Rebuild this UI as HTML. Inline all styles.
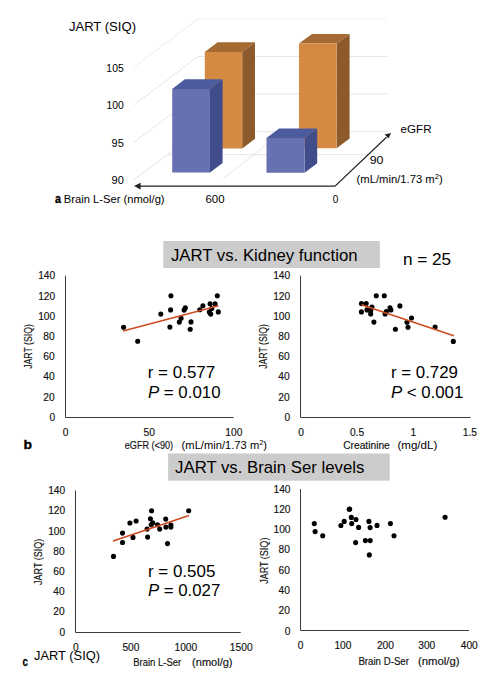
<!DOCTYPE html>
<html><head><meta charset="utf-8"><style>
html,body{margin:0;padding:0;background:#fff;}
svg{display:block;font-family:"Liberation Sans", sans-serif;}
</style></head><body>
<svg width="498" height="690" viewBox="0 0 498 690">
<line x1="134" y1="66.8" x2="198" y2="19" stroke="#e6e6e6" stroke-width="0.8"/>
<line x1="134" y1="104.8" x2="198" y2="56.5" stroke="#dedede" stroke-width="0.8"/>
<line x1="134" y1="142.3" x2="198" y2="94" stroke="#dedede" stroke-width="0.8"/>
<line x1="134" y1="179.8" x2="198" y2="131.7" stroke="#dedede" stroke-width="0.8"/>
<line x1="198" y1="19" x2="387" y2="19" stroke="#ececec" stroke-width="0.8"/>
<line x1="198" y1="56.5" x2="387" y2="56.5" stroke="#dedede" stroke-width="0.8"/>
<line x1="198" y1="94" x2="387" y2="94" stroke="#dedede" stroke-width="0.8"/>
<line x1="198" y1="131.7" x2="387" y2="131.7" stroke="#dedede" stroke-width="0.8"/>
<line x1="168" y1="154.7" x2="368" y2="154.7" stroke="#dedede" stroke-width="0.8"/>
<line x1="223.4" y1="178.4" x2="283" y2="132" stroke="#dedede" stroke-width="0.8"/>
<polygon points="242.20,52.00 255.00,42.20 255.00,138.80 242.20,148.60" fill="#8c5a2b"/>
<polygon points="204.80,52.00 217.60,42.20 255.00,42.20 242.20,52.00" fill="#a56933"/>
<polygon points="204.80,52.00 242.20,52.00 242.20,148.60 204.80,148.60" fill="#d48a43"/>
<polygon points="336.60,43.60 349.60,34.00 349.60,138.60 336.60,148.20" fill="#8c5a2b"/>
<polygon points="299.00,43.60 312.00,34.00 349.60,34.00 336.60,43.60" fill="#a56933"/>
<polygon points="299.00,43.60 336.60,43.60 336.60,148.20 299.00,148.20" fill="#d48a43"/>
<polygon points="210.00,89.00 222.60,79.30 222.60,162.90 210.00,172.60" fill="#404d8a"/>
<polygon points="172.20,89.00 184.80,79.30 222.60,79.30 210.00,89.00" fill="#4c5a9e"/>
<polygon points="172.20,89.00 210.00,89.00 210.00,172.60 172.20,172.60" fill="#6771b1"/>
<polygon points="304.60,138.00 317.20,128.40 317.20,163.20 304.60,172.80" fill="#404d8a"/>
<polygon points="266.50,138.00 279.10,128.40 317.20,128.40 304.60,138.00" fill="#4c5a9e"/>
<polygon points="266.50,138.00 304.60,138.00 304.60,172.80 266.50,172.80" fill="#6771b1"/>
<polyline points="139,186.1 335,186.1 386.5,137.3" fill="none" stroke="#222" stroke-width="1.2"/>
<polygon points="134.00,186.10 140.60,182.80 140.60,189.40" fill="#222"/>
<polygon points="391.00,132.90 384.60,134.40 388.60,138.60" fill="#222"/>
<rect x="163.3" y="241" width="216.6" height="27" fill="#cccccc"/>
<rect x="168.1" y="453.5" width="221.6" height="27.2" fill="#cccccc"/>
<polyline points="65.5,275.7 65.5,417.5 233.6,417.5" fill="none" stroke="#3c3c3c" stroke-width="1"/>
<circle cx="123.6" cy="327.2" r="2.55"/>
<circle cx="137.7" cy="341.3" r="2.55"/>
<circle cx="160.8" cy="314.1" r="2.55"/>
<circle cx="170.9" cy="295.8" r="2.55"/>
<circle cx="170.6" cy="309.9" r="2.55"/>
<circle cx="169.9" cy="327.1" r="2.55"/>
<circle cx="185.3" cy="307.9" r="2.55"/>
<circle cx="184.1" cy="310.1" r="2.55"/>
<circle cx="181.1" cy="318.3" r="2.55"/>
<circle cx="179.3" cy="322.1" r="2.55"/>
<circle cx="191" cy="321.9" r="2.55"/>
<circle cx="190.2" cy="329.2" r="2.55"/>
<circle cx="217.3" cy="295.8" r="2.55"/>
<circle cx="202.9" cy="305.7" r="2.55"/>
<circle cx="199.8" cy="309.7" r="2.55"/>
<circle cx="210.1" cy="303.7" r="2.55"/>
<circle cx="215.1" cy="303.7" r="2.55"/>
<circle cx="211.7" cy="308.5" r="2.55"/>
<circle cx="209.3" cy="312.1" r="2.55"/>
<circle cx="210.7" cy="314.1" r="2.55"/>
<circle cx="218.3" cy="311.9" r="2.55"/>
<line x1="123" y1="331.1" x2="218.5" y2="305.8" stroke="#cf4b1e" stroke-width="1.6"/>
<polyline points="300.5,275.7 300.5,417.5 470.5,417.5" fill="none" stroke="#3c3c3c" stroke-width="1"/>
<circle cx="376.3" cy="295.8" r="2.55"/>
<circle cx="384.3" cy="295.8" r="2.55"/>
<circle cx="361.4" cy="303.6" r="2.55"/>
<circle cx="366.2" cy="303.6" r="2.55"/>
<circle cx="371.9" cy="307.1" r="2.55"/>
<circle cx="367" cy="309.9" r="2.55"/>
<circle cx="370.7" cy="310.7" r="2.55"/>
<circle cx="361.4" cy="311.9" r="2.55"/>
<circle cx="370.7" cy="313.9" r="2.55"/>
<circle cx="373.9" cy="322.1" r="2.55"/>
<circle cx="386.3" cy="311.5" r="2.55"/>
<circle cx="385.1" cy="313.9" r="2.55"/>
<circle cx="390" cy="307.9" r="2.55"/>
<circle cx="390.9" cy="310" r="2.55"/>
<circle cx="399.9" cy="305.9" r="2.55"/>
<circle cx="411.5" cy="318" r="2.55"/>
<circle cx="407" cy="322.2" r="2.55"/>
<circle cx="408" cy="327.3" r="2.55"/>
<circle cx="395.4" cy="329.2" r="2.55"/>
<circle cx="435.1" cy="327" r="2.55"/>
<circle cx="453.3" cy="341.4" r="2.55"/>
<line x1="361.4" y1="304.7" x2="453.8" y2="335.7" stroke="#cf4b1e" stroke-width="1.6"/>
<polyline points="75.5,490.5 75.5,632.5 240.7,632.5" fill="none" stroke="#3c3c3c" stroke-width="1"/>
<circle cx="113.5" cy="556.4" r="2.55"/>
<circle cx="122.5" cy="533.1" r="2.55"/>
<circle cx="122.5" cy="542.5" r="2.55"/>
<circle cx="129.9" cy="523" r="2.55"/>
<circle cx="136.1" cy="521" r="2.55"/>
<circle cx="133" cy="537.4" r="2.55"/>
<circle cx="151.6" cy="510.8" r="2.55"/>
<circle cx="150.4" cy="518.8" r="2.55"/>
<circle cx="152.7" cy="522.8" r="2.55"/>
<circle cx="151.2" cy="524.7" r="2.55"/>
<circle cx="147.1" cy="529.1" r="2.55"/>
<circle cx="157.5" cy="524.7" r="2.55"/>
<circle cx="159.7" cy="529.1" r="2.55"/>
<circle cx="165.7" cy="519.1" r="2.55"/>
<circle cx="165.9" cy="527.1" r="2.55"/>
<circle cx="170.9" cy="525.1" r="2.55"/>
<circle cx="170.9" cy="527.1" r="2.55"/>
<circle cx="147.6" cy="537.1" r="2.55"/>
<circle cx="167.5" cy="543.6" r="2.55"/>
<circle cx="188.7" cy="510.8" r="2.55"/>
<line x1="113.1" y1="541" x2="189" y2="515.5" stroke="#cf4b1e" stroke-width="1.6"/>
<polyline points="300.5,489 300.5,630.5 469,630.5" fill="none" stroke="#3c3c3c" stroke-width="1"/>
<circle cx="314.3" cy="523.6" r="2.55"/>
<circle cx="315.1" cy="531.6" r="2.55"/>
<circle cx="322.7" cy="535.7" r="2.55"/>
<circle cx="340.9" cy="525.5" r="2.55"/>
<circle cx="344.2" cy="521.4" r="2.55"/>
<circle cx="349.2" cy="509.2" r="2.55"/>
<circle cx="349.7" cy="509.0" r="2.55"/>
<circle cx="351.3" cy="517.4" r="2.55"/>
<circle cx="351.7" cy="523.6" r="2.55"/>
<circle cx="356" cy="519.5" r="2.55"/>
<circle cx="358.6" cy="527.4" r="2.55"/>
<circle cx="355.6" cy="542.6" r="2.55"/>
<circle cx="368.9" cy="521.4" r="2.55"/>
<circle cx="370.1" cy="527.6" r="2.55"/>
<circle cx="377" cy="525.4" r="2.55"/>
<circle cx="365.4" cy="540.6" r="2.55"/>
<circle cx="370.2" cy="540.6" r="2.55"/>
<circle cx="369.3" cy="554.9" r="2.55"/>
<circle cx="390.4" cy="523.6" r="2.55"/>
<circle cx="394" cy="535.7" r="2.55"/>
<circle cx="445.1" cy="517.3" r="2.55"/>
<text x="68.90" y="30.70" font-size="13" textLength="67.11" lengthAdjust="spacingAndGlyphs">JART (SIQ)</text>
<text x="106.39" y="71.90" font-size="10.3" textLength="17.29" lengthAdjust="spacingAndGlyphs">105</text>
<text x="106.50" y="109.10" font-size="10.3" textLength="17.19" lengthAdjust="spacingAndGlyphs">100</text>
<text x="111.64" y="146.80" font-size="10.3" textLength="12.16" lengthAdjust="spacingAndGlyphs">95</text>
<text x="111.63" y="184.10" font-size="10.3" textLength="12.27" lengthAdjust="spacingAndGlyphs">90</text>
<text x="55.10" y="202.60" font-size="12.5" font-weight="bold" stroke="#000" stroke-width="0.35" textLength="5.96" lengthAdjust="spacingAndGlyphs">a</text>
<text x="63.80" y="202.60" font-size="10.2" textLength="100.79" lengthAdjust="spacingAndGlyphs">Brain L-Ser (nmol/g)</text>
<text x="205.43" y="202.80" font-size="10.7" textLength="19.10" lengthAdjust="spacingAndGlyphs">600</text>
<text x="332.70" y="202.90" font-size="10.7" textLength="5.56" lengthAdjust="spacingAndGlyphs">0</text>
<text x="400.60" y="132.60" font-size="10.2" textLength="30.93" lengthAdjust="spacingAndGlyphs">eGFR</text>
<text x="369.69" y="164.10" font-size="10.2" textLength="13.73" lengthAdjust="spacingAndGlyphs">90</text>
<text x="356.60" y="182.50" font-size="10.2" textLength="86.19" lengthAdjust="spacingAndGlyphs">(mL/min/1.73 m<tspan font-size="7" dy="-4">2</tspan><tspan dy="4">)</tspan></text>
<text x="170.90" y="260.80" font-size="16.4" textLength="186.63" lengthAdjust="spacingAndGlyphs">JART vs. Kidney function</text>
<text x="402.98" y="264.90" font-size="16.8" textLength="48.17" lengthAdjust="spacingAndGlyphs">n = 25</text>
<text x="175.10" y="473.30" font-size="16.4" textLength="189.22" lengthAdjust="spacingAndGlyphs">JART vs. Brain Ser levels</text>
<text x="49.40" y="420.80" font-size="10" fill="#111" stroke="#111" stroke-width="0.15" textLength="5.67" lengthAdjust="spacingAndGlyphs">0</text>
<text x="43.28" y="400.59" font-size="10" fill="#111" stroke="#111" stroke-width="0.15" textLength="11.35" lengthAdjust="spacingAndGlyphs">20</text>
<text x="43.28" y="380.37" font-size="10" fill="#111" stroke="#111" stroke-width="0.15" textLength="11.35" lengthAdjust="spacingAndGlyphs">40</text>
<text x="43.28" y="360.16" font-size="10" fill="#111" stroke="#111" stroke-width="0.15" textLength="11.35" lengthAdjust="spacingAndGlyphs">60</text>
<text x="43.28" y="339.94" font-size="10" fill="#111" stroke="#111" stroke-width="0.15" textLength="11.35" lengthAdjust="spacingAndGlyphs">80</text>
<text x="38.18" y="319.73" font-size="10" fill="#111" stroke="#111" stroke-width="0.15" textLength="17.02" lengthAdjust="spacingAndGlyphs">100</text>
<text x="38.18" y="299.51" font-size="10" fill="#111" stroke="#111" stroke-width="0.15" textLength="17.02" lengthAdjust="spacingAndGlyphs">120</text>
<text x="38.18" y="279.30" font-size="10" fill="#111" stroke="#111" stroke-width="0.15" textLength="17.02" lengthAdjust="spacingAndGlyphs">140</text>
<text x="62.75" y="435.70" font-size="10" fill="#111" stroke="#111" stroke-width="0.15" textLength="5.67" lengthAdjust="spacingAndGlyphs">0</text>
<text x="143.48" y="435.70" font-size="10" fill="#111" stroke="#111" stroke-width="0.15" textLength="11.35" lengthAdjust="spacingAndGlyphs">50</text>
<text x="225.33" y="435.70" font-size="10" fill="#111" stroke="#111" stroke-width="0.15" textLength="17.02" lengthAdjust="spacingAndGlyphs">100</text>
<text x="0" y="0" font-size="10" fill="#111" stroke="#111" stroke-width="0.15" textLength="44.67" lengthAdjust="spacingAndGlyphs" transform="translate(32.40,368.80) rotate(-90)">JART (SIQ)</text>
<text x="284.40" y="420.80" font-size="10" fill="#111" stroke="#111" stroke-width="0.15" textLength="5.67" lengthAdjust="spacingAndGlyphs">0</text>
<text x="278.28" y="400.59" font-size="10" fill="#111" stroke="#111" stroke-width="0.15" textLength="11.35" lengthAdjust="spacingAndGlyphs">20</text>
<text x="278.28" y="380.37" font-size="10" fill="#111" stroke="#111" stroke-width="0.15" textLength="11.35" lengthAdjust="spacingAndGlyphs">40</text>
<text x="278.28" y="360.16" font-size="10" fill="#111" stroke="#111" stroke-width="0.15" textLength="11.35" lengthAdjust="spacingAndGlyphs">60</text>
<text x="278.28" y="339.94" font-size="10" fill="#111" stroke="#111" stroke-width="0.15" textLength="11.35" lengthAdjust="spacingAndGlyphs">80</text>
<text x="273.18" y="319.73" font-size="10" fill="#111" stroke="#111" stroke-width="0.15" textLength="17.02" lengthAdjust="spacingAndGlyphs">100</text>
<text x="273.18" y="299.51" font-size="10" fill="#111" stroke="#111" stroke-width="0.15" textLength="17.02" lengthAdjust="spacingAndGlyphs">120</text>
<text x="273.18" y="279.30" font-size="10" fill="#111" stroke="#111" stroke-width="0.15" textLength="17.02" lengthAdjust="spacingAndGlyphs">140</text>
<text x="298.25" y="435.70" font-size="10" fill="#111" stroke="#111" stroke-width="0.15" textLength="5.67" lengthAdjust="spacingAndGlyphs">0</text>
<text x="349.96" y="435.70" font-size="10" fill="#111" stroke="#111" stroke-width="0.15" textLength="14.18" lengthAdjust="spacingAndGlyphs">0.5</text>
<text x="410.54" y="435.70" font-size="10" fill="#111" stroke="#111" stroke-width="0.15" textLength="5.67" lengthAdjust="spacingAndGlyphs">1</text>
<text x="462.75" y="435.70" font-size="10" fill="#111" stroke="#111" stroke-width="0.15" textLength="14.18" lengthAdjust="spacingAndGlyphs">1.5</text>
<text x="0" y="0" font-size="10" fill="#111" stroke="#111" stroke-width="0.15" textLength="44.67" lengthAdjust="spacingAndGlyphs" transform="translate(267.40,368.80) rotate(-90)">JART (SIQ)</text>
<text x="59.40" y="635.50" font-size="10" fill="#111" stroke="#111" stroke-width="0.15" textLength="5.67" lengthAdjust="spacingAndGlyphs">0</text>
<text x="53.28" y="615.30" font-size="10" fill="#111" stroke="#111" stroke-width="0.15" textLength="11.35" lengthAdjust="spacingAndGlyphs">20</text>
<text x="53.28" y="595.10" font-size="10" fill="#111" stroke="#111" stroke-width="0.15" textLength="11.35" lengthAdjust="spacingAndGlyphs">40</text>
<text x="53.28" y="574.90" font-size="10" fill="#111" stroke="#111" stroke-width="0.15" textLength="11.35" lengthAdjust="spacingAndGlyphs">60</text>
<text x="53.28" y="554.70" font-size="10" fill="#111" stroke="#111" stroke-width="0.15" textLength="11.35" lengthAdjust="spacingAndGlyphs">80</text>
<text x="48.18" y="534.50" font-size="10" fill="#111" stroke="#111" stroke-width="0.15" textLength="17.02" lengthAdjust="spacingAndGlyphs">100</text>
<text x="48.18" y="514.30" font-size="10" fill="#111" stroke="#111" stroke-width="0.15" textLength="17.02" lengthAdjust="spacingAndGlyphs">120</text>
<text x="48.18" y="494.10" font-size="10" fill="#111" stroke="#111" stroke-width="0.15" textLength="17.02" lengthAdjust="spacingAndGlyphs">140</text>
<text x="73.05" y="650.90" font-size="10" fill="#111" stroke="#111" stroke-width="0.15" textLength="5.67" lengthAdjust="spacingAndGlyphs">0</text>
<text x="122.43" y="650.90" font-size="10" fill="#111" stroke="#111" stroke-width="0.15" textLength="17.02" lengthAdjust="spacingAndGlyphs">500</text>
<text x="174.47" y="650.90" font-size="10" fill="#111" stroke="#111" stroke-width="0.15" textLength="22.70" lengthAdjust="spacingAndGlyphs">1000</text>
<text x="229.87" y="650.90" font-size="10" fill="#111" stroke="#111" stroke-width="0.15" textLength="22.70" lengthAdjust="spacingAndGlyphs">1500</text>
<text x="0" y="0" font-size="10" fill="#111" stroke="#111" stroke-width="0.15" textLength="46.08" lengthAdjust="spacingAndGlyphs" transform="translate(42.00,584.90) rotate(-90)">JART (SIQ)</text>
<text x="284.70" y="634.60" font-size="10" fill="#111" stroke="#111" stroke-width="0.15" textLength="5.67" lengthAdjust="spacingAndGlyphs">0</text>
<text x="278.58" y="614.31" font-size="10" fill="#111" stroke="#111" stroke-width="0.15" textLength="11.35" lengthAdjust="spacingAndGlyphs">20</text>
<text x="278.58" y="594.03" font-size="10" fill="#111" stroke="#111" stroke-width="0.15" textLength="11.35" lengthAdjust="spacingAndGlyphs">40</text>
<text x="278.58" y="573.74" font-size="10" fill="#111" stroke="#111" stroke-width="0.15" textLength="11.35" lengthAdjust="spacingAndGlyphs">60</text>
<text x="278.58" y="553.46" font-size="10" fill="#111" stroke="#111" stroke-width="0.15" textLength="11.35" lengthAdjust="spacingAndGlyphs">80</text>
<text x="273.48" y="533.17" font-size="10" fill="#111" stroke="#111" stroke-width="0.15" textLength="17.02" lengthAdjust="spacingAndGlyphs">100</text>
<text x="273.48" y="512.89" font-size="10" fill="#111" stroke="#111" stroke-width="0.15" textLength="17.02" lengthAdjust="spacingAndGlyphs">120</text>
<text x="273.48" y="492.60" font-size="10" fill="#111" stroke="#111" stroke-width="0.15" textLength="17.02" lengthAdjust="spacingAndGlyphs">140</text>
<text x="297.85" y="649.40" font-size="10" fill="#111" stroke="#111" stroke-width="0.15" textLength="5.67" lengthAdjust="spacingAndGlyphs">0</text>
<text x="334.43" y="649.40" font-size="10" fill="#111" stroke="#111" stroke-width="0.15" textLength="17.02" lengthAdjust="spacingAndGlyphs">100</text>
<text x="376.94" y="649.40" font-size="10" fill="#111" stroke="#111" stroke-width="0.15" textLength="17.02" lengthAdjust="spacingAndGlyphs">200</text>
<text x="418.23" y="649.40" font-size="10" fill="#111" stroke="#111" stroke-width="0.15" textLength="17.02" lengthAdjust="spacingAndGlyphs">300</text>
<text x="460.74" y="649.40" font-size="10" fill="#111" stroke="#111" stroke-width="0.15" textLength="17.02" lengthAdjust="spacingAndGlyphs">400</text>
<text x="0" y="0" font-size="10" fill="#111" stroke="#111" stroke-width="0.15" textLength="46.18" lengthAdjust="spacingAndGlyphs" transform="translate(267.50,583.80) rotate(-90)">JART (SIQ)</text>
<text x="147.74" y="378.30" font-size="16" textLength="67.51" lengthAdjust="spacingAndGlyphs">r = 0.577</text>
<text x="147.95" y="397.50" font-size="16" textLength="72.56" lengthAdjust="spacingAndGlyphs"><tspan font-style="italic">P</tspan> = 0.010</text>
<text x="390.95" y="378.10" font-size="16" textLength="67.00" lengthAdjust="spacingAndGlyphs">r = 0.729</text>
<text x="390.95" y="398.20" font-size="16" textLength="72.35" lengthAdjust="spacingAndGlyphs"><tspan font-style="italic">P</tspan> &lt; 0.001</text>
<text x="147.94" y="576.50" font-size="16" textLength="67.41" lengthAdjust="spacingAndGlyphs">r = 0.505</text>
<text x="147.95" y="596.10" font-size="16" textLength="72.35" lengthAdjust="spacingAndGlyphs"><tspan font-style="italic">P</tspan> = 0.027</text>
<text x="124.80" y="449.00" font-size="10" fill="#111" stroke="#111" stroke-width="0.15" textLength="48.27" lengthAdjust="spacingAndGlyphs">eGFR (&lt;90)</text>
<text x="181.64" y="448.70" font-size="10.5" textLength="85.43" lengthAdjust="spacingAndGlyphs">(mL/min/1.73 m<tspan font-size="7" dy="-4">2</tspan><tspan dy="4">)</tspan></text>
<text x="343.20" y="449.00" font-size="10" fill="#111" stroke="#111" stroke-width="0.15" textLength="46.61" lengthAdjust="spacingAndGlyphs">Creatinine</text>
<text x="397.46" y="449.00" font-size="10.2" textLength="39.86" lengthAdjust="spacingAndGlyphs">(mg/dL)</text>
<text x="133.25" y="666.40" font-size="10" fill="#111" stroke="#111" stroke-width="0.15" textLength="47.85" lengthAdjust="spacingAndGlyphs">Brain L-Ser</text>
<text x="192.10" y="666.40" font-size="10" fill="#111" stroke="#111" stroke-width="0.15" textLength="40.46" lengthAdjust="spacingAndGlyphs">(nmol/g)</text>
<text x="358.43" y="665.30" font-size="10" fill="#111" stroke="#111" stroke-width="0.15" textLength="50.51" lengthAdjust="spacingAndGlyphs">Brain D-Ser</text>
<text x="417.97" y="665.30" font-size="10" fill="#111" stroke="#111" stroke-width="0.15" textLength="41.61" lengthAdjust="spacingAndGlyphs">(nmol/g)</text>
<text x="23.48" y="448.70" font-size="12.5" font-weight="bold" stroke="#000" stroke-width="0.3" textLength="8.53" lengthAdjust="spacingAndGlyphs">b</text>
<text x="22.50" y="665.50" font-size="12.5" font-weight="bold" stroke="#000" stroke-width="0.3" textLength="5.36" lengthAdjust="spacingAndGlyphs">c</text>
<text x="34.00" y="659.80" font-size="13" textLength="66.10" lengthAdjust="spacingAndGlyphs">JART (SIQ)</text>
</svg>
</body></html>
